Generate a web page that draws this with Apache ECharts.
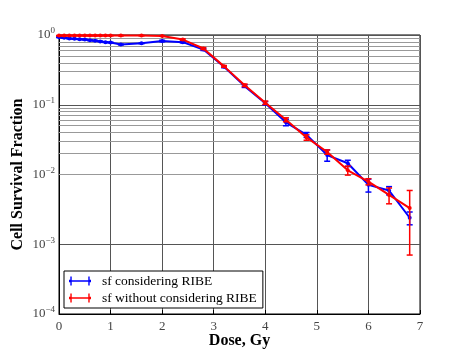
<!DOCTYPE html>
<html>
<head>
<meta charset="utf-8">
<script src="https://cdn.jsdelivr.net/npm/echarts@6/dist/echarts.min.js"></script>
<style>
  html, body { margin: 0; padding: 0; background: #fff; }
  #chart { width: 467px; height: 350px; }
</style>
</head>
<body>
<div id="chart"></div>
<script>
// dose points (Gy)
const dose = [0, 0.1, 0.2, 0.3, 0.4, 0.5, 0.6, 0.7, 0.8, 0.9, 1.0, 1.2, 1.6, 2.0, 2.4, 2.8, 3.2, 3.6, 4.0, 4.4, 4.8, 5.2, 5.6, 6.0, 6.4, 6.8];
// survival fraction, with RIBE
const sfRibe = [0.93, 0.91, 0.89, 0.88, 0.87, 0.86, 0.84, 0.83, 0.81, 0.79, 0.78, 0.73, 0.76, 0.82, 0.79, 0.62, 0.35, 0.185, 0.105, 0.056, 0.037, 0.019, 0.0145, 0.0071, 0.0059, 0.0024];
const errRibe = [0.01, 0.01, 0.01, 0.01, 0.01, 0.01, 0.01, 0.01, 0.01, 0.01, 0.01, 0.01, 0.01, 0.02, 0.02, 0.02, 0.01, 0.008, 0.006, 0.006, 0.003, 0.0035, 0.0015, 0.0015, 0.0008, 0.0005];
// survival fraction, without RIBE
const sfNoRibe = [0.98, 0.98, 0.98, 0.98, 0.98, 0.98, 0.98, 0.98, 0.98, 0.98, 0.98, 0.98, 0.98, 0.97, 0.86, 0.64, 0.355, 0.19, 0.107, 0.061, 0.034, 0.021, 0.0115, 0.0079, 0.0051, 0.0033];
const errNoRibe = [0.005, 0.005, 0.005, 0.005, 0.005, 0.005, 0.005, 0.005, 0.005, 0.005, 0.005, 0.005, 0.005, 0.01, 0.02, 0.02, 0.01, 0.008, 0.006, 0.004, 0.003, 0.0015, 0.0017, 0.0008, 0.0013, 0.0026];
const xTicks = [0, 1, 2, 3, 4, 5, 6, 7];

const nameRibe = 'sf considering RIBE';
const nameNoRibe = 'sf without considering RIBE';
const FONT = '"Liberation Serif", "DejaVu Serif", serif';

// minor log grid lines (2..9 in every decade)
const minorLines = [];
[1e-4, 1e-3, 1e-2, 1e-1].forEach(function (d) {
  for (let k = 2; k <= 9; k++) minorLines.push({ yAxis: d * k });
});

function pairs (xs, ys) { return xs.map(function (x, i) { return [x, ys[i]]; }); }
function triples (xs, ys, es) { return xs.map(function (x, i) { return [x, ys[i], es[i]]; }); }

// error bars drawn through the axes
function errorBar (color) {
  return function (params, api) {
    const x = api.value(0), y = api.value(1), e = api.value(2);
    const top = api.coord([x, y + e]);
    const bot = api.coord([x, Math.max(y - e, 1e-5)]);
    const w = 3;
    const style = { stroke: color, lineWidth: 1.5 };
    return {
      type: 'group',
      children: [
        { type: 'line', shape: { x1: top[0], y1: top[1], x2: bot[0], y2: bot[1] }, style: style },
        { type: 'line', shape: { x1: top[0] - w, y1: top[1], x2: top[0] + w, y2: top[1] }, style: style },
        { type: 'line', shape: { x1: bot[0] - w, y1: bot[1], x2: bot[0] + w, y2: bot[1] }, style: style }
      ]
    };
  };
}

const legendIcon = 'path://M0,4.2h22v1.6h-22z M0,0h1.6v10h-1.6z M20.4,0h1.6v10h-1.6z M-1.5,3.5h3v3h-3z M20.5,3.5h3v3h-3z';

const chart = echarts.init(document.getElementById('chart'));
chart.setOption({
  animation: false,
  backgroundColor: '#fff',
  textStyle: { fontFamily: FONT },
  grid: { left: 59, right: 47, top: 35, bottom: 36, show: true, borderColor: '#000', borderWidth: 1,
    containLabel: false, outerBoundsMode: 'none' },
  legend: {
    left: 64, top: 271,
    orient: 'vertical',
    backgroundColor: '#fff',
    borderColor: '#000',
    borderWidth: 1,
    padding: [3, 6, 3, 5],
    itemGap: 3,
    itemWidth: 22,
    itemHeight: 10,
    textStyle: { fontFamily: FONT, fontSize: 13.5, color: '#000', padding: [0, 0, 0, 6] },
    data: [
      { name: nameRibe, icon: legendIcon },
      { name: nameNoRibe, icon: legendIcon }
    ]
  },
  xAxis: {
    type: 'value',
    min: 0, max: 7, interval: 1,
    name: 'Dose, Gy',
    nameLocation: 'middle',
    nameGap: 19,
    nameMoveOverlap: false,
    nameTextStyle: { fontFamily: FONT, fontSize: 16, fontWeight: 'bold', color: '#000' },
    axisLine: { lineStyle: { color: '#000' } },
    axisTick: { inside: true, length: 4, lineStyle: { color: '#000' } },
    axisLabel: { fontFamily: FONT, fontSize: 13, color: '#444', margin: 6,
      formatter: function (v) { return xTicks.indexOf(v) >= 0 ? String(v) : ''; } },
    splitLine: { show: true, lineStyle: { color: '#555', width: 1 } }
  },
  yAxis: {
    type: 'log',
    logBase: 10,
    min: 1e-4, max: 1,
    name: 'Cell Survival Fraction',
    nameLocation: 'middle',
    nameGap: 33,
    nameMoveOverlap: false,
    nameTextStyle: { fontFamily: FONT, fontSize: 16, fontWeight: 'bold', color: '#000' },
    axisLine: { lineStyle: { color: '#000' } },
    axisTick: { show: false },
    axisLabel: {
      margin: 4,
      formatter: function (v) {
        const p = Math.round(Math.log10(v));
        return '{b|10}{e|' + (p < 0 ? '\u2212' + (-p) : p) + '}';
      },
      rich: {
        b: { fontFamily: FONT, fontSize: 13, color: '#444' },
        e: { fontFamily: FONT, fontSize: 9, color: '#444', padding: [0, 0, 8, 0] }
      }
    },
    splitLine: { show: true, lineStyle: { color: '#555', width: 1 } }
  },
  series: [
    {
      name: nameRibe,
      type: 'line',
      data: pairs(dose, sfRibe),
      color: '#0000ff',
      lineStyle: { width: 2, color: '#0000ff' },
      itemStyle: { color: '#0000ff' },
      symbol: 'circle',
      symbolSize: 4,
      z: 3,
      markLine: {
        silent: true,
        symbol: 'none',
        label: { show: false },
        lineStyle: { color: '#999', width: 1, type: 'solid' },
        data: minorLines,
        z: 1
      }
    },
    {
      name: nameRibe,
      type: 'custom',
      data: triples(dose, sfRibe, errRibe),
      renderItem: errorBar('#0000ff'),
      itemStyle: { color: '#0000ff' },
      z: 3
    },
    {
      name: nameNoRibe,
      type: 'line',
      data: pairs(dose, sfNoRibe),
      color: '#ff0000',
      lineStyle: { width: 2, color: '#ff0000' },
      itemStyle: { color: '#ff0000' },
      symbol: 'circle',
      symbolSize: 4,
      z: 4
    },
    {
      name: nameNoRibe,
      type: 'custom',
      data: triples(dose, sfNoRibe, errNoRibe),
      renderItem: errorBar('#ff0000'),
      itemStyle: { color: '#ff0000' },
      z: 4
    }
  ]
});
</script>
</body>
</html>
